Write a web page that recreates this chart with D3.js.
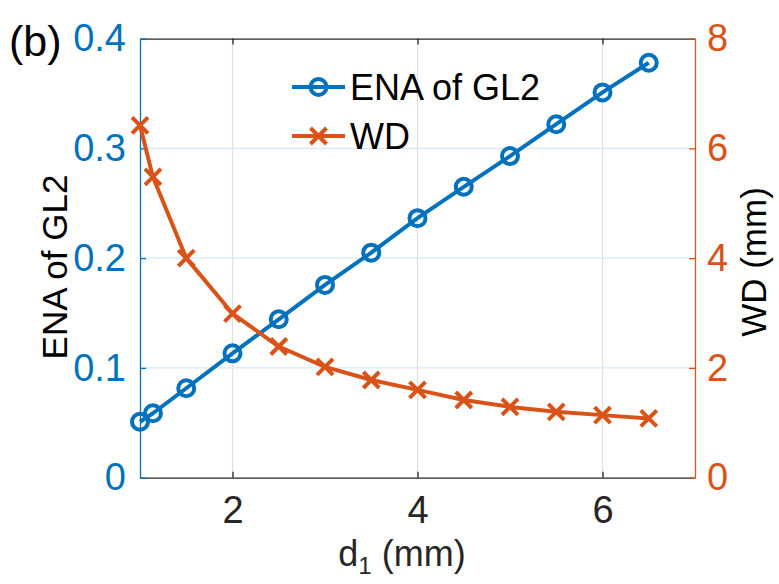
<!DOCTYPE html>
<html>
<head>
<meta charset="utf-8">
<script src="https://cdn.jsdelivr.net/npm/d3@7"></script>
<style>
  html, body { margin: 0; padding: 0; background: #fff; }
  svg { display: block; font-family: "Liberation Sans", Arial, Helvetica, sans-serif; }
</style>
</head>
<body>
<svg id="chart" width="779" height="584"></svg>
<script>
// Spacing d1 (mm) of the sampled configurations
const d1 = [1, 1.14, 1.5, 2, 2.5, 3, 3.5, 4, 4.5, 5, 5.5, 6, 6.5];
// ENA of GL2 (left axis)
const ena = [0.051, 0.0587, 0.0815, 0.1133, 0.1443, 0.1756, 0.205, 0.2364, 0.265, 0.293, 0.322, 0.351, 0.378];
// WD in mm (right axis)
const wd = [6.42, 5.48, 4.0, 2.99, 2.39, 2.02, 1.78, 1.60, 1.415, 1.29, 1.20, 1.14, 1.08];

const xTicks = [2, 4, 6];
const yLeftTicks = [0, 0.1, 0.2, 0.3, 0.4];
const yRightTicks = [0, 2, 4, 6, 8];

const blue = "#0072BD";
const orange = "#D95319";
const dark = "#262626";

const W = 779, H = 584;
const m = { left: 140, right: 84, top: 38.6, bottom: 106.3 };
const x0 = m.left, x1 = W - m.right, y0 = H - m.bottom, y1 = m.top;

const x = d3.scaleLinear().domain([1, 7]).range([x0, x1]);
const yL = d3.scaleLinear().domain([0, 0.4]).range([y0, y1]);
const yR = d3.scaleLinear().domain([0, 8]).range([y0, y1]);

const svg = d3.select("#chart");

// grid
const grid = svg.append("g");
grid.selectAll("line.vg").data(xTicks).join("line")
  .attr("x1", d => x(d)).attr("x2", d => x(d))
  .attr("y1", y0).attr("y2", y1)
  .attr("stroke", "#dedede").attr("stroke-width", 1.2);
grid.selectAll("line.hg").data(yLeftTicks.slice(1, -1)).join("line")
  .attr("x1", x0).attr("x2", x1)
  .attr("y1", d => yL(d)).attr("y2", d => yL(d))
  .attr("stroke", "#d6e8f5").attr("stroke-width", 1.2);

// axes (inward ticks, box on)
const tickLen = 6;
const fsTick = 38;

const xAxisB = d3.axisBottom(x).tickValues(xTicks).tickSizeInner(-tickLen).tickSizeOuter(0).tickPadding(18).tickFormat(d3.format("d"));
const gxb = svg.append("g").attr("transform", `translate(0,${y0})`).call(xAxisB);
gxb.select(".domain").attr("stroke", dark).attr("stroke-width", 1.3);
gxb.selectAll(".tick line").attr("stroke", dark).attr("stroke-width", 1.3);
gxb.selectAll(".tick text").attr("fill", dark).attr("font-size", fsTick).attr("font-family", null);

const xAxisT = d3.axisTop(x).tickValues(xTicks).tickSizeInner(-tickLen).tickSizeOuter(0).tickFormat("");
const gxt = svg.append("g").attr("transform", `translate(0,${y1})`).call(xAxisT);
gxt.select(".domain").attr("stroke", dark).attr("stroke-width", 1.3);
gxt.selectAll(".tick line").attr("stroke", dark).attr("stroke-width", 1.3);

const yAxisL = d3.axisLeft(yL).tickValues(yLeftTicks).tickSizeInner(-tickLen).tickSizeOuter(0).tickPadding(14)
  .tickFormat(d => d === 0 ? "0" : d3.format(".1f")(d));
const gyl = svg.append("g").attr("transform", `translate(${x0},0)`).call(yAxisL);
gyl.select(".domain").attr("stroke", blue).attr("stroke-width", 1.3);
gyl.selectAll(".tick line").attr("stroke", blue).attr("stroke-width", 1.3);
gyl.selectAll(".tick text").attr("fill", blue).attr("font-size", fsTick).attr("font-family", null);

const yAxisR = d3.axisRight(yR).tickValues(yRightTicks).tickSizeInner(-tickLen).tickSizeOuter(0).tickPadding(12).tickFormat(d3.format("d"));
const gyr = svg.append("g").attr("transform", `translate(${x1},0)`).call(yAxisR);
gyr.select(".domain").attr("stroke", orange).attr("stroke-width", 1.3);
gyr.selectAll(".tick line").attr("stroke", orange).attr("stroke-width", 1.3);
gyr.selectAll(".tick text").attr("fill", orange).attr("font-size", fsTick).attr("font-family", null);

// series
const lw = 4;
const lineL = d3.line().x((d, i) => x(d1[i])).y(d => yL(d));
const lineR = d3.line().x((d, i) => x(d1[i])).y(d => yR(d));

svg.append("path").datum(ena).attr("d", lineL)
  .attr("fill", "none").attr("stroke", blue).attr("stroke-width", lw).attr("stroke-linejoin", "round");
svg.append("g").selectAll("circle").data(ena).join("circle")
  .attr("cx", (d, i) => x(d1[i])).attr("cy", d => yL(d)).attr("r", 8)
  .attr("fill", "none").attr("stroke", blue).attr("stroke-width", lw);

function cross(g, cx, cy, s, color) {
  g.append("path")
    .attr("d", `M${cx - s},${cy - s}L${cx + s},${cy + s}M${cx - s},${cy + s}L${cx + s},${cy - s}`)
    .attr("stroke", color).attr("stroke-width", lw).attr("fill", "none");
}

svg.append("path").datum(wd).attr("d", lineR)
  .attr("fill", "none").attr("stroke", orange).attr("stroke-width", lw).attr("stroke-linejoin", "round");
const gx = svg.append("g");
wd.forEach((d, i) => cross(gx, x(d1[i]), yR(d), 8, orange));

// legend
const leg = svg.append("g");
const legItems = [
  { name: "ENA of GL2", color: blue, marker: "o", y: 87 },
  { name: "WD", color: orange, marker: "x", y: 136 }
];
legItems.forEach(it => {
  leg.append("line").attr("x1", 292).attr("x2", 345).attr("y1", it.y).attr("y2", it.y)
    .attr("stroke", it.color).attr("stroke-width", lw);
  if (it.marker === "o") {
    leg.append("circle").attr("cx", 318.5).attr("cy", it.y).attr("r", 8)
      .attr("fill", "none").attr("stroke", it.color).attr("stroke-width", lw);
  } else {
    cross(leg, 318.5, it.y, 8, it.color);
  }
  leg.append("text").attr("x", 350).attr("y", it.y).attr("dy", "0.35em")
    .attr("font-size", 36).attr("fill", "#000").text(it.name);
});

// axis labels
const xl = svg.append("text").attr("x", 402).attr("y", 566)
  .attr("text-anchor", "middle").attr("font-size", 36).attr("fill", dark);
xl.append("tspan").text("d");
xl.append("tspan").attr("font-size", 24).attr("dy", 8).text("1");
xl.append("tspan").attr("dy", -8).text(" (mm)");

svg.append("text").attr("transform", `translate(67,267) rotate(-90)`)
  .attr("text-anchor", "middle").attr("font-size", 35).attr("fill", "#000").text("ENA of GL2");
svg.append("text").attr("transform", `translate(766,262) rotate(-90)`)
  .attr("text-anchor", "middle").attr("font-size", 35).attr("fill", "#000").text("WD (mm)");

// panel tag
svg.append("text").attr("x", 9).attr("y", 56).attr("font-size", 43).attr("fill", "#000").text("(b)");
</script>
</body>
</html>
